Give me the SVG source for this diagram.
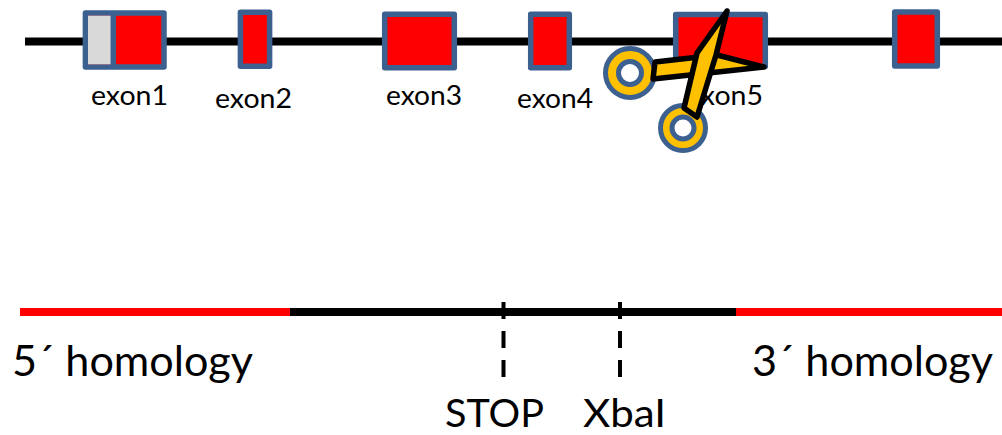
<svg xmlns="http://www.w3.org/2000/svg" width="1002" height="435" viewBox="0 0 1002 435">
<style>
text{font-family:Lato,"Open Sans","Liberation Sans",sans-serif;fill:#000}
.s{font-size:27px}
.b{font-size:42px}
.c{font-size:38px}
.ex{fill:#f00;stroke:#3c6090;stroke-width:5.5;stroke-linejoin:round}
.dash{stroke:#000;stroke-width:4;stroke-dasharray:17 12;fill:none}
.blade{fill:#ffc000;stroke:#000;stroke-width:5.5;stroke-linejoin:round}
.ring{fill:#ffc000;stroke:#3c6090;stroke-width:5}
.hole{fill:#fff;stroke:#3c6090;stroke-width:5}
</style>
<g id="connectors">
<path d="M25 41.500H1002" stroke="#000" stroke-width="8" fill="none"/>
<path d="M20 312H290" stroke="#f00" stroke-width="8" fill="none"/>
<path d="M290 312H736" stroke="#000" stroke-width="8" fill="none"/>
<path d="M736 312H1002" stroke="#f00" stroke-width="8" fill="none"/>
<path class="dash" d="M503.500 302V377"/>
<path class="dash" d="M620 302V377"/>
</g>
<g id="exon1">
<rect class="ex" x="85.400" y="13" width="78.600" height="54"/>
<rect x="88" y="15.700" width="23" height="48.600" fill="#d9d9d9"/>
<path d="M113.300 14V66" stroke="#3c6090" stroke-width="5.500"/>
<text class="s" x="91" y="105" textLength="77" lengthAdjust="spacingAndGlyphs">exon1</text>
</g>
<g id="exon2">
<rect class="ex" x="240.400" y="12.200" width="29.200" height="54"/>
<text class="s" x="215" y="108" textLength="77" lengthAdjust="spacingAndGlyphs">exon2</text>
</g>
<g id="exon3">
<rect class="ex" x="384.700" y="14.200" width="69.600" height="53.600"/>
<text class="s" x="386" y="105" textLength="76" lengthAdjust="spacingAndGlyphs">exon3</text>
</g>
<g id="exon4">
<rect class="ex" x="530.700" y="14.200" width="38.600" height="53.600"/>
<text class="s" x="517" y="108" textLength="76" lengthAdjust="spacingAndGlyphs">exon4</text>
</g>
<g id="exon5">
<rect class="ex" x="675.700" y="14.400" width="89.600" height="52"/>
<text class="s" x="686" y="105" textLength="77" lengthAdjust="spacingAndGlyphs">exon5</text>
</g>
<g id="exon6">
<rect class="ex" x="894.700" y="12" width="42.600" height="54"/>
</g>
<g id="scissors">
<circle class="ring" cx="630" cy="73" r="24.500"/>
<circle class="hole" cx="630" cy="73" r="11.500"/>
<path class="blade" d="M655 62L717 55L764 67L653 79Z"/>
<circle class="ring" cx="683" cy="128" r="22.500"/>
<circle class="hole" cx="683" cy="128" r="11"/>
<path class="blade" d="M727 11L697 53L684 108L697 117L716 55Z"/>
</g>
<g id="labels">
<text class="b" x="12" y="376" textLength="241" lengthAdjust="spacingAndGlyphs">5´ homology</text>
<text class="b" x="752" y="376" textLength="241" lengthAdjust="spacingAndGlyphs">3´ homology</text>
<text class="c" x="445" y="427" textLength="99" lengthAdjust="spacingAndGlyphs">STOP</text>
<text class="c" x="583" y="427" textLength="83" lengthAdjust="spacingAndGlyphs">XbaI</text>
</g>
</svg>
